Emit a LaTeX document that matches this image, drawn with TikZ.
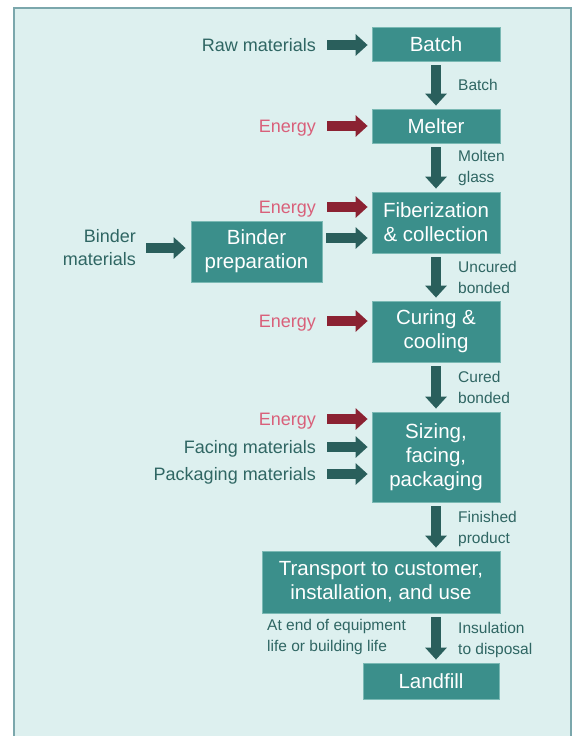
\documentclass[tikz,border=0pt]{standalone}
\usepackage{fontspec}
\setmainfont{Liberation Sans}
\usetikzlibrary{arrows.meta}
\definecolor{bgc}{HTML}{DDF0EF}
\definecolor{panelc}{HTML}{7BA7AC}
\definecolor{boxc}{HTML}{3B8F8B}
\definecolor{boxedge}{HTML}{7AB9B4}
\definecolor{arrowc}{HTML}{2A5F5C}
\definecolor{redc}{HTML}{8B2232}
\definecolor{energyc}{HTML}{D9607A}
\definecolor{lblc}{HTML}{2F6663}
\begin{document}
\begin{tikzpicture}[x=1pt,y=-1pt,
  box/.style={fill=boxc, draw=boxedge, line width=0.8pt, text=white,
    font=\fontsize{20.5}{24}\selectfont, align=center,
    minimum width=128pt, inner sep=0pt},
  lbl/.style={text=lblc, font=\fontsize{18}{23}\selectfont, anchor=east,
    inner sep=0pt, text height=13pt, text depth=0pt},
  elbl/.style={lbl, text=energyc},
  small/.style={text=lblc, font=\fontsize{15.5}{20.5}\selectfont,
    anchor=north west, align=left, inner sep=0pt},
  darrow/.style={color=arrowc, line width=10pt,
    -{Triangle[length=12pt,width=21pt]}},
  rarrow/.style={darrow, color=redc},
]
\useasboundingbox (0,0) rectangle (572,736);
\fill[white] (0,0) rectangle (572,736);
\draw[fill=bgc, draw=panelc, line width=2pt] (14,8) rectangle (571,760);

% boxes
\node[box, minimum height=34pt] (batch) at (436,44) {Batch};
\node[box, minimum height=34pt] (melter) at (436,126) {Melter};
\node[box, minimum height=61pt] (fiber) at (436,222.5) {Fiberization\\\& collection};
\node[box, minimum height=61pt, minimum width=131pt] (binder) at (256.5,251.5) {Binder\\preparation};
\node[box, minimum height=61pt] (curing) at (436,331.5) {Curing \&\\cooling};
\node[box, minimum height=90pt] (sizing) at (436,457) {Sizing,\\facing,\\packaging};
\node[box, minimum height=62pt, minimum width=238pt] (transport) at (381,582) {Transport to customer,\\installation, and use};
\node[box, minimum height=36pt, minimum width=136pt] (landfill) at (431,681) {Landfill};

% input labels
\node[lbl] (raw) at (316,45) {Raw materials};
\node[elbl] (e1) at (316,126) {Energy};
\node[elbl] (e2) at (316,207) {Energy};
\node[elbl] (e3) at (316,321) {Energy};
\node[elbl] (e4) at (316,419) {Energy};
\node[lbl] (facing) at (316,447) {Facing materials};
\node[lbl] (packaging) at (316,474) {Packaging materials};
\node[text=lblc, font=\fontsize{18}{23}\selectfont, align=right, inner sep=0pt, anchor=east] (bmat) at (136,248) {Binder\\materials};

% horizontal arrows
\draw[darrow, shorten <=11pt, shorten >=4pt] (raw.east) -- (raw.east -| batch.west);
\draw[rarrow, shorten <=11pt, shorten >=4pt] (e1.east) -- (e1.east -| melter.west);
\draw[rarrow, shorten <=11pt, shorten >=4pt] (e2.east) -- (e2.east -| fiber.west);
\draw[darrow, shorten <=4pt, shorten >=4pt] (binder.east |- 0,238) -- (fiber.west |- 0,238);
\draw[rarrow, shorten <=11pt, shorten >=4pt] (e3.east) -- (e3.east -| curing.west);
\draw[rarrow, shorten <=11pt, shorten >=4pt] (e4.east) -- (e4.east -| sizing.west);
\draw[darrow, shorten <=11pt, shorten >=4pt] (facing.east) -- (facing.east -| sizing.west);
\draw[darrow, shorten <=11pt, shorten >=4pt] (packaging.east) -- (packaging.east -| sizing.west);
\draw[darrow, shorten <=10pt, shorten >=5pt] (bmat.east) -- (bmat.east -| binder.west);

% vertical arrows
\draw[darrow, shorten <=4pt, shorten >=3pt] (batch.south) -- (melter.north);
\draw[darrow, shorten <=4pt, shorten >=3pt] (melter.south) -- (fiber.north);
\draw[darrow, shorten <=4pt, shorten >=3pt] (fiber.south) -- (curing.north);
\draw[darrow, shorten <=4pt, shorten >=3pt] (curing.south) -- (sizing.north);
\draw[darrow, shorten <=4pt, shorten >=3pt] (sizing.south) -- (transport.north -| sizing.south);
\draw[darrow, shorten <=4pt, shorten >=3pt] (transport.south -| batch.south) -- (landfill.north -| batch.south);

% flow labels
\node[small] (l1) at (458,79.2) {Batch};
\node[small] (l2) at (458,150.2) {Molten\\glass};
\node[small] (l3) at (458,261.2) {Uncured\\bonded};
\node[small] (l4) at (458,371.2) {Cured\\bonded};
\node[small] (l5) at (458,511.2) {Finished\\product};
\node[small] (l6) at (458,622.2) {Insulation\\to disposal};
\node[small] (l7) at (267,619.4) {At end of equipment\\life or building life};
\end{tikzpicture}
\end{document}
